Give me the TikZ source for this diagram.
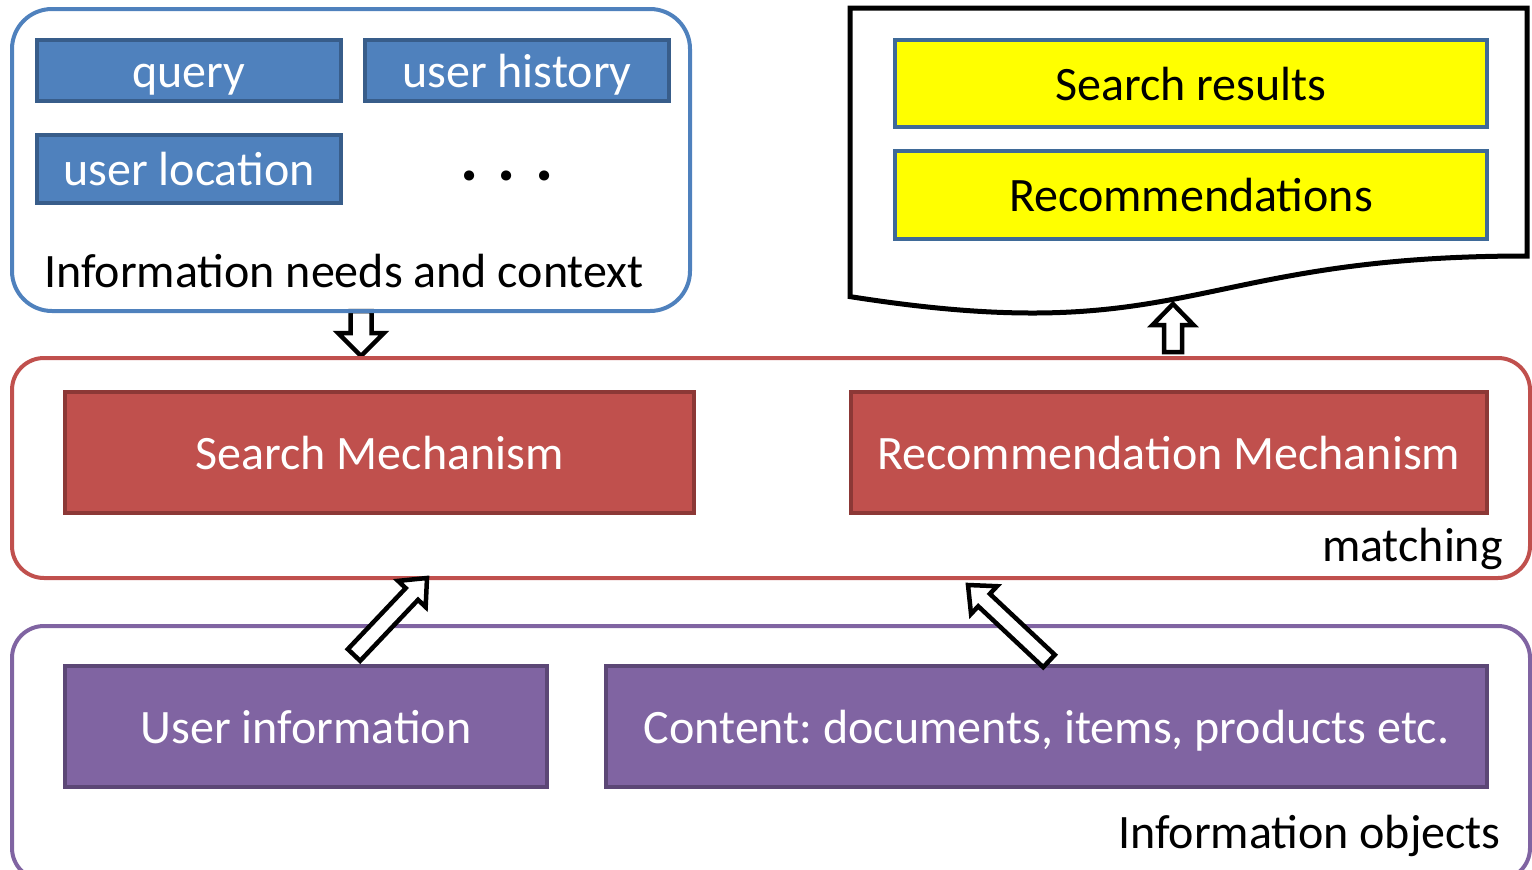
\documentclass[tikz,border=0pt]{standalone}
\usepackage{fontspec}
\setmainfont{Carlito}
\usetikzlibrary{calc}
\frenchspacing

\definecolor{bluefill}{HTML}{4F81BD}
\definecolor{blueline}{HTML}{385D8A}
\definecolor{redfill}{HTML}{C0504D}
\definecolor{redline}{HTML}{8C3836}
\definecolor{purfill}{HTML}{8064A2}
\definecolor{purline}{HTML}{5C4776}
\definecolor{yelfill}{HTML}{FFFF00}
\definecolor{yelline}{HTML}{3F6A98}

\tikzset{
  every node/.style={font=\fontsize{48}{58}\selectfont, inner sep=0pt},
  box/.style={draw, line width=4pt, text height=40pt, text depth=7pt, align=center},
  bluebox/.style={box, fill=bluefill, draw=blueline, text=white},
  redbox/.style={box, fill=redfill, draw=redline, text=white},
  purbox/.style={box, fill=purfill, draw=purline, text=white},
  yelbox/.style={box, fill=yelfill, draw=yelline, text=black},
  container/.style={draw, line width=4pt, rounded corners=#1},
  blockarr/.style={draw=black, fill=white, line width=4.5pt, line join=miter},
  doc/.style={draw=black, fill=white, line width=5pt, line join=miter},
}

% hollow block arrow: tail, tip, half shaft width, half head width, head length
\newcommand\blockarrow[5]{%
  \draw[blockarr]
    ($(#1)!#3!90:(#2)$) --
    ($($(#2)!#5!(#1)$)!#3!90:(#2)$) --
    ($($(#2)!#5!(#1)$)!#4!90:(#2)$) --
    (#2) --
    ($($(#2)!#5!(#1)$)!#4!-90:(#2)$) --
    ($($(#2)!#5!(#1)$)!#3!-90:(#2)$) --
    ($(#1)!#3!-90:(#2)$) -- cycle;}

\begin{document}
\begin{tikzpicture}[x=1pt, y=-1pt]
\useasboundingbox (0,0) rectangle (1532,870);
\clip (0,0) rectangle (1532,870);

% arrow endpoints
\coordinate (dnTail) at (361,311);
\coordinate (dnTip)  at (361,356);
\coordinate (upTail) at (1173,352);
\coordinate (upTip)  at (1173,304);
\coordinate (uTail)  at (354,655);
\coordinate (uTip)   at (427,578);
\coordinate (cTail)  at (1049,661);
\coordinate (cTip)   at (968,585);

% needs -> matching
\blockarrow{dnTail}{dnTip}{10.5pt}{23pt}{23pt}

% containers
\node[container=40pt, draw=bluefill, minimum width=678pt, minimum height=302pt] (needs) at (351,160) {};
\node[container=32pt, draw=redfill, minimum width=1518pt, minimum height=220pt] (matching) at (771,468) {};
\node[container=32pt, draw=purfill, minimum width=1518pt, minimum height=254pt] (objects) at (771,753) {};

% result document
\draw[doc] (850,8) -- (1527,8) -- (1527,256)
  .. controls (1188.5,256) and (1188.5,350) .. (850,296.6) -- cycle;

% information needs
\node[bluebox, minimum width=304pt, minimum height=61pt] (query) at (189,70.5) {query};
\node[bluebox, minimum width=304pt, minimum height=61pt] (history) at (517,70.5) {user history};
\node[bluebox, minimum width=304pt, minimum height=68pt] (location) at (189,169) {user location};
\node[anchor=base, font=\fontsize{68}{80}\selectfont\bfseries] (dots) at (507,180) {.\hspace{19pt}.\hspace{19pt}.};
\node[anchor=base] (needslbl) at (344,287) {Information needs and context};

% outputs
\node[yelbox, minimum width=592pt, minimum height=87pt] (results) at (1191,83.5) {Search results};
\node[yelbox, minimum width=592pt, minimum height=88pt] (recs) at (1191,195) {Recommendations};

% matching
\node[redbox, minimum width=629pt, minimum height=121pt] (search) at (379.5,452.5) {Search Mechanism};
\node[redbox, minimum width=636pt, minimum height=121pt] (recmech) at (1169,452.5) {Recommendation Mechanism};
\node[anchor=base east] (matchlbl) at (1503,561) {matching};

% information objects
\node[purbox, minimum width=482pt, minimum height=121pt] (userinfo) at (306,726.5) {User information};
\node[purbox, minimum width=881pt, minimum height=121pt] (content) at (1046.5,726.5) {Content: documents, items, products etc.};
\node[anchor=base east] (objlbl) at (1501,848) {Information objects};

% remaining arrows
\blockarrow{upTail}{upTip}{9pt}{20.5pt}{21pt}
\blockarrow{uTail}{uTip}{8.5pt}{19pt}{22pt}
\blockarrow{cTail}{cTip}{8.5pt}{19pt}{22pt}
\end{tikzpicture}
\end{document}
